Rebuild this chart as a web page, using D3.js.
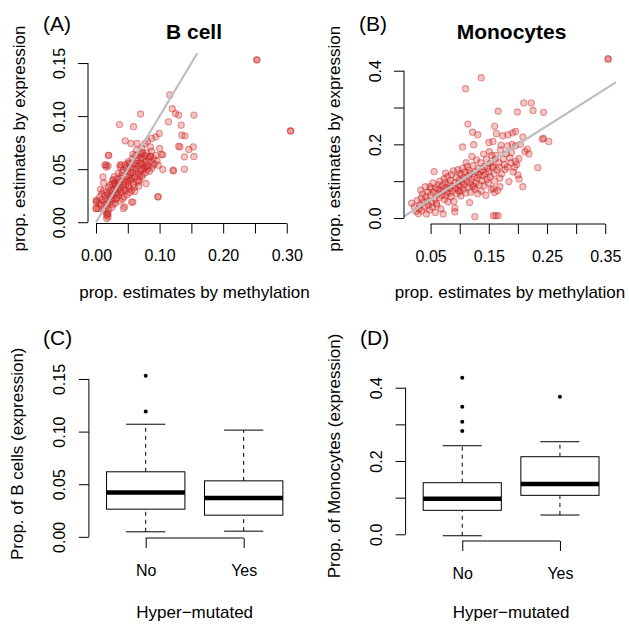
<!DOCTYPE html>
<html><head><meta charset="utf-8">
<script src="https://cdn.jsdelivr.net/npm/d3@7/dist/d3.min.js"></script>
<style>
body{margin:0;background:#fff}
svg text{font-family:"Liberation Sans",Arial,Helvetica,sans-serif;fill:#000}
</style>
</head><body>
<svg id="chart" width="629" height="624"></svg>
<script>
// ---------------- DATA ----------------
// Panel A: B cell proportions [methylation, expression]
const bcellPoints = [
[0.253,0.153],[0.253,0.153],[0.306,0.086],[0.306,0.086],
[0.116,0.120],[0.070,0.102],[0.120,0.107],[0.125,0.1025],[0.130,0.101],[0.154,0.101],
[0.037,0.092],[0.059,0.090],[0.114,0.0946],[0.134,0.0915],[0.135,0.082],[0.140,0.0814],
[0.0995,0.0837],[0.094,0.0805],[0.0875,0.079],[0.081,0.0764],[0.046,0.0767],[0.055,0.0742],
[0.0645,0.0742],[0.077,0.0742],[0.0855,0.071],[0.130,0.0717],[0.153,0.071],[0.146,0.0686],
[0.020,0.063],[0.103,0.064],[0.139,0.0616],[0.154,0.062],[0.058,0.064],[0.071,0.065],
[0.086,0.062],[0.105,0.0635],[0.122,0.0484],[0.139,0.050],[0.105,0.0497],[0.098,0.0538],
[0.016,0.054],[0.016,0.052],[0.040,0.054],[0.050,0.0553],[0.063,0.0553],[0.076,0.052],
[0.089,0.0538],[0.011,0.0427],[0.0265,0.0396],[0.029,0.0365],[0.0395,0.0412],[0.055,0.0396],
[0.068,0.0396],[0.0786,0.0365],[0.097,0.0239],[0.058,0.019],[0.045,0.0145],[0.0005,0.0208],
[0.0005,0.013],[0.019,0.0082],[0.019,0.005],
[0.002,0.020],[0.004,0.013],[0.005,0.018],[0.006,0.024],[0.008,0.016],[0.009,0.027],
[0.010,0.021],[0.011,0.012],[0.012,0.030],[0.013,0.019],[0.014,0.025],[0.015,0.010],
[0.016,0.022],[0.017,0.028],[0.018,0.008],[0.018,0.016],[0.020,0.033],[0.020,0.012],
[0.021,0.024],[0.022,0.019],[0.023,0.030],[0.024,0.027],[0.025,0.014],[0.025,0.036],
[0.026,0.021],[0.027,0.040],[0.028,0.025],[0.029,0.031],[0.030,0.018],[0.030,0.037],
[0.031,0.028],[0.032,0.022],[0.033,0.034],[0.034,0.041],[0.035,0.026],[0.035,0.046],
[0.036,0.031],[0.037,0.038],[0.038,0.020],[0.038,0.052],[0.039,0.033],[0.040,0.044],
[0.041,0.028],[0.042,0.036],[0.043,0.049],[0.044,0.031],[0.045,0.040],[0.046,0.054],
[0.047,0.035],[0.048,0.043],[0.049,0.026],[0.050,0.048],[0.050,0.038],[0.051,0.057],
[0.052,0.032],[0.053,0.045],[0.054,0.052],[0.055,0.040],[0.056,0.030],[0.057,0.060],
[0.058,0.047],[0.059,0.036],[0.060,0.054],[0.061,0.043],[0.062,0.063],[0.063,0.050],
[0.064,0.058],[0.065,0.039],[0.066,0.053],[0.067,0.046],[0.068,0.064],[0.069,0.056],
[0.070,0.049],[0.071,0.061],[0.072,0.043],[0.073,0.066],[0.074,0.055],[0.075,0.059],
[0.076,0.051],[0.077,0.063],[0.078,0.047],[0.079,0.057],[0.080,0.065],[0.082,0.053],
[0.083,0.060],[0.084,0.048],[0.085,0.062],[0.086,0.057],[0.087,0.067],[0.088,0.051],
[0.090,0.060],[0.092,0.055],[0.094,0.063],[0.096,0.058],[0.026,0.030],[0.033,0.027],
[0.044,0.024],[0.052,0.041],[0.060,0.033],[0.067,0.038],[0.074,0.045],[0.081,0.050],
[0.0194,0.063],[0.014,0.054],[0.019,0.053],[0.0377,0.054],[0.053,0.055],[0.100,0.0695],
[0.098,0.024],[0.056,0.019],[0.043,0.013],[0.000,0.019],[0.000,0.013],[0.0168,0.0066],
[0.0168,0.0035],[0.121,0.049],[0.132,0.071],[0.007,0.031],[0.012,0.037],[0.015,0.017],
[0.019,0.026],[0.022,0.035],[0.024,0.022],[0.027,0.017],[0.029,0.043],[0.031,0.034],
[0.033,0.023],[0.036,0.036],[0.039,0.029],[0.041,0.047],[0.042,0.022],[0.044,0.038],
[0.046,0.030],[0.048,0.051],[0.051,0.034],[0.053,0.028],[0.055,0.047],[0.057,0.042],
[0.059,0.051],[0.061,0.029],[0.063,0.046],[0.065,0.061],[0.067,0.034],[0.069,0.044],
[0.071,0.055],[0.073,0.050],[0.076,0.062],[0.079,0.053],[0.064,0.068],[0.072,0.070]
];

// Panel B: Monocyte proportions [methylation, expression]
const monoPoints = [
[0.355,0.432],[0.355,0.432],
[0.0175,0.040],[0.022,0.030],[0.025,0.018],[0.027,0.048],[0.029,0.012],[0.030,0.025],
[0.032,0.036],[0.033,0.076],[0.034,0.054],[0.035,0.020],[0.036,0.065],[0.038,0.043],
[0.040,0.030],[0.041,0.085],[0.042,0.058],[0.043,0.011],[0.044,0.047],[0.045,0.070],
[0.046,0.035],[0.048,0.022],[0.049,0.085],[0.050,0.062],[0.051,0.080],[0.052,0.042],
[0.053,0.030],[0.054,0.095],[0.055,0.070],[0.056,0.126],[0.057,0.052],[0.058,0.015],
[0.059,0.082],[0.060,0.040],[0.061,0.035],[0.062,0.066],[0.063,0.090],[0.064,0.078],
[0.065,0.056],[0.066,0.100],[0.067,0.072],[0.068,0.025],[0.069,0.062],[0.070,0.088],
[0.0716,0.011],[0.072,0.077],[0.073,0.106],[0.074,0.050],[0.075,0.095],[0.0757,0.122],
[0.076,0.061],[0.077,0.083],[0.078,0.070],[0.079,0.112],[0.080,0.044],[0.081,0.092],
[0.082,0.068],[0.083,0.080],[0.084,0.102],[0.085,0.058],[0.086,0.118],[0.087,0.074],
[0.088,0.087],[0.089,0.128],[0.090,0.045],[0.0916,0.017],[0.0916,0.027],[0.092,0.096],
[0.093,0.081],[0.094,0.110],[0.095,0.066],[0.0967,0.131],[0.097,0.090],[0.098,0.075],
[0.099,0.103],[0.100,0.072],[0.100,0.121],
[0.101,0.085],[0.102,0.060],[0.103,0.118],[0.104,0.098],[0.105,0.193],[0.105,0.135],
[0.106,0.078],[0.107,0.108],[0.108,0.090],[0.109,0.125],[0.110,0.351],[0.110,0.068],
[0.111,0.150],[0.112,0.100],[0.113,0.140],[0.114,0.255],[0.114,0.084],[0.115,0.115],
[0.116,0.130],[0.117,0.042],[0.117,0.095],[0.118,0.122],[0.119,0.070],[0.120,0.105],
[0.121,0.167],[0.122,0.233],[0.122,0.088],[0.123,0.142],[0.124,0.199],[0.124,0.085],
[0.125,0.112],[0.126,0.0036],[0.126,0.078],[0.127,0.125],[0.128,0.095],[0.129,0.158],
[0.130,0.108],[0.131,0.226],[0.131,0.066],[0.132,0.135],[0.133,0.118],[0.134,0.090],
[0.1356,0.126],[0.136,0.150],[0.137,0.073],[0.137,0.381],[0.138,0.102],[0.139,0.130],
[0.140,0.115],[0.141,0.1735],[0.142,0.088],[0.143,0.140],[0.144,0.120],[0.145,0.062],
[0.146,0.160],[0.147,0.105],[0.148,0.135],[0.149,0.095],[0.150,0.205],[0.150,0.125],
[0.151,0.180],[0.152,0.112],[0.153,0.149],[0.154,0.078],[0.155,0.170],[0.156,0.140],
[0.157,0.208],[0.157,0.138],[0.158,0.080],[0.158,0.0063],[0.159,0.120],[0.160,0.249],
[0.160,0.100],[0.160,0.069],[0.161,0.160],[0.162,0.170],[0.162,0.0063],[0.163,0.229],
[0.164,0.130],[0.165,0.075],[0.166,0.290],[0.166,0.0063],[0.167,0.150],
[0.168,0.138],[0.169,0.108],[0.169,0.085],[0.170,0.185],[0.171,0.198],[0.172,0.120],
[0.174,0.2234],[0.175,0.160],[0.177,0.145],[0.178,0.132],[0.180,0.175],[0.182,0.138],
[0.182,0.196],[0.183,0.226],[0.1846,0.099],[0.186,0.163],[0.188,0.150],[0.189,0.178],
[0.190,0.200],[0.191,0.231],[0.192,0.125],[0.194,0.138],[0.196,0.235],[0.196,0.154],
[0.196,0.196],[0.198,0.145],[0.199,0.288],[0.200,0.117],[0.2017,0.161],[0.202,0.106],
[0.204,0.200],[0.2085,0.220],[0.2085,0.085],[0.210,0.3125],[0.212,0.180],[0.216,0.187],
[0.219,0.174],[0.223,0.3125],[0.226,0.292],[0.234,0.137],[0.2417,0.2144],[0.244,0.287],
[0.244,0.216],[0.253,0.208]
];

// Panels C/D: boxplot statistics [lower whisker, Q1, median, Q3, upper whisker]
const groups = ["No", "Yes"];
const bcellBoxStats = [[0.0048,0.0263,0.0422,0.0618,0.107],[0.0054,0.0206,0.0368,0.0532,0.1014]];
const bcellBoxOutliers = [[0.119,0.153],[]];
const monoBoxStats = [[-0.004,0.0654,0.097,0.1408,0.2417],[0.0526,0.1063,0.137,0.2117,0.2526]];
const monoBoxOutliers = [[0.282,0.307,0.348,0.427],[0.375]];

// Tick values and labels
const bcellXTicks = [0,0.05,0.10,0.15,0.20,0.25,0.30];
const bcellXLabels = ["0.00","","0.10","","0.20","","0.30"];
const bcellYTicks = [0,0.05,0.10,0.15];
const bcellYLabels = ["0.00","0.05","0.10","0.15"];
const monoXTicks = [0.05,0.10,0.15,0.20,0.25,0.30,0.35];
const monoXLabels = ["0.05","","0.15","","0.25","","0.35"];
const monoYTicks = [0,0.1,0.2,0.3,0.4];
const monoYLabels = ["0.0","","0.2","","0.4"];

// ---------------- DRAWING ----------------
const svg = d3.select("#chart");
const FONT = '"Liberation Sans",Arial,Helvetica,sans-serif';

function yAxis(g, y, x0, ticks, labels) {
  const ax = d3.axisLeft(y).tickValues(ticks).tickSize(10)
    .tickFormat((d,i) => labels[i]);
  const a = g.append("g").attr("transform", `translate(${x0},0)`).call(ax);
  a.select(".domain").remove();
  a.attr("font-family", FONT).attr("font-size", 16);
  a.selectAll(".tick line").attr("stroke", "#000");
  a.selectAll(".tick text").attr("x", null).attr("dy", null)
    .attr("text-anchor", "middle")
    .attr("transform", "translate(-23.5,0) rotate(-90)");
  a.append("line").attr("x1",0).attr("x2",0)
    .attr("y1", y(ticks[0])).attr("y2", y(ticks[ticks.length-1]))
    .attr("stroke","#000");
}
function xAxis(g, x, y0, ticks, labels) {
  const ax = d3.axisBottom(x).tickValues(ticks).tickSize(10)
    .tickFormat((d,i) => labels[i]);
  const a = g.append("g").attr("transform", `translate(0,${y0})`).call(ax);
  a.select(".domain").remove();
  a.attr("font-family", FONT).attr("font-size", 16);
  a.selectAll(".tick line").attr("stroke", "#000");
  a.selectAll(".tick text").attr("y", 37.5).attr("dy", null);
  a.append("line").attr("y1",0).attr("y2",0)
    .attr("x1", x(ticks[0])).attr("x2", x(ticks[ticks.length-1]))
    .attr("stroke","#000");
}

function scatterPanel(o) {
  const g = svg.append("g");
  const x = d3.scaleLinear().domain(o.xDomain).range(o.xRange);
  const y = d3.scaleLinear().domain(o.yDomain).range(o.yRange);
  const cid = "clip" + o.id;
  g.append("clipPath").attr("id", cid).append("rect")
    .attr("x", o.xRange[0]).attr("y", o.yRange[1])
    .attr("width", o.xRange[1]-o.xRange[0]).attr("height", o.yRange[0]-o.yRange[1]);
  g.append("g").selectAll("circle").data(o.points).join("circle")
    .attr("cx", d => x(d[0])).attr("cy", d => y(d[1])).attr("r", 3.1)
    .attr("fill", "rgba(210,40,40,0.27)")
    .attr("stroke", "rgba(205,35,35,0.45)").attr("stroke-width", 1.1);
  // identity line y = x
  g.append("line").attr("clip-path", `url(#${cid})`)
    .attr("x1", x(0)).attr("y1", y(0)).attr("x2", x(1)).attr("y2", y(1))
    .attr("stroke", "#BEBEBE").attr("stroke-width", 2.2);
  yAxis(g, y, o.xRange[0], o.yTicks, o.yLabels);
  xAxis(g, x, o.yRange[0], o.xTicks, o.xLabels);
  g.append("text").attr("x", o.titleX).attr("y", 39).attr("text-anchor","middle")
    .attr("font-size", 21).attr("font-weight","bold").text(o.title);
  g.append("text").attr("x", o.letterX).attr("y", 31).attr("font-size", 21).text(o.letter);
  g.append("text").attr("transform", `translate(${o.ylabX},${(o.yRange[0]+o.yRange[1])/2}) rotate(-90)`)
    .attr("text-anchor","middle").attr("font-size", 17).text(o.ylab);
  g.append("text").attr("x", (o.xRange[0]+o.xRange[1])/2).attr("y", 298)
    .attr("text-anchor","middle").attr("font-size", 17).text(o.xlab);
}

function boxPanel(o) {
  const g = svg.append("g");
  const x = d3.scaleLinear().domain([0.42, 2.58]).range(o.xRange);
  const y = d3.scaleLinear().domain(o.yDomain).range(o.yRange);
  const hw = x(1.4) - x(1), cw = x(1.2) - x(1);
  o.stats.forEach((s, i) => {
    const cx = x(i+1);
    const bg = g.append("g");
    bg.append("line").attr("x1",cx).attr("x2",cx).attr("y1",y(s[0])).attr("y2",y(s[1]))
      .attr("stroke","#000").attr("stroke-dasharray","4,4");
    bg.append("line").attr("x1",cx).attr("x2",cx).attr("y1",y(s[3])).attr("y2",y(s[4]))
      .attr("stroke","#000").attr("stroke-dasharray","4,4");
    [s[0], s[4]].forEach(v => bg.append("line").attr("x1",cx-cw).attr("x2",cx+cw)
      .attr("y1",y(v)).attr("y2",y(v)).attr("stroke","#000"));
    bg.append("rect").attr("x",cx-hw).attr("width",2*hw)
      .attr("y",y(s[3])).attr("height",y(s[1])-y(s[3]))
      .attr("fill","#fff").attr("stroke","#000");
    bg.append("line").attr("x1",cx-hw).attr("x2",cx+hw).attr("y1",y(s[2])).attr("y2",y(s[2]))
      .attr("stroke","#000").attr("stroke-width",4.5);
    bg.selectAll("circle.o").data(o.outliers[i]).join("circle")
      .attr("cx",cx).attr("cy",d=>y(d)).attr("r",2).attr("fill","#000");
  });
  yAxis(g, y, o.xRange[0], o.yTicks, o.yLabels);
  xAxis(g, x, o.yRange[0], [1,2], groups);
  g.append("text").attr("x", o.letterX).attr("y", 344.5).attr("font-size", 21).text(o.letter);
  g.append("text").attr("transform", `translate(${o.ylabX},${(o.yRange[0]+o.yRange[1])/2}) rotate(-90)`)
    .attr("text-anchor","middle").attr("font-size", 17).text(o.ylab);
  g.append("text").attr("x", (o.xRange[0]+o.xRange[1])/2).attr("y", 618)
    .attr("text-anchor","middle").attr("font-size", 17).text("Hyper\u2212mutated");
}

scatterPanel({
  id:"A", letter:"(A)", letterX:43, title:"B cell", titleX:194,
  xDomain:[-0.0126,0.3224], xRange:[88,301],
  yDomain:[-0.0012,0.159], yRange:[223.5,53.5],
  xTicks:bcellXTicks, xLabels:bcellXLabels, yTicks:bcellYTicks, yLabels:bcellYLabels,
  points:bcellPoints, ylabX:25,
  ylab:"prop. estimates by expression", xlab:"prop. estimates by methylation"
});
scatterPanel({
  id:"B", letter:"(B)", letterX:359, title:"Monocytes", titleX:511.5,
  xDomain:[0.0043,0.3685], xRange:[404,616],
  yDomain:[-0.0163,0.4467], yRange:[224,53.5],
  xTicks:monoXTicks, xLabels:monoXLabels, yTicks:monoYTicks, yLabels:monoYLabels,
  points:monoPoints, ylabX:340,
  ylab:"prop. estimates by expression", xlab:"prop. estimates by methylation"
});
boxPanel({
  letter:"(C)", letterX:43, xRange:[88.9,300.5],
  yDomain:[-0.0011,0.159], yRange:[538,369.5],
  stats:bcellBoxStats, outliers:bcellBoxOutliers,
  yTicks:bcellYTicks, yLabels:bcellYLabels, ylabX:22.5,
  ylab:"Prop. of B cells (expression)"
});
boxPanel({
  letter:"(D)", letterX:360, xRange:[405.6,616.6],
  yDomain:[-0.0183,0.4456], yRange:[541,371],
  stats:monoBoxStats, outliers:monoBoxOutliers,
  yTicks:monoYTicks, yLabels:monoYLabels, ylabX:340,
  ylab:"Prop. of Monocytes (expression)"
});
</script>
</body></html>
